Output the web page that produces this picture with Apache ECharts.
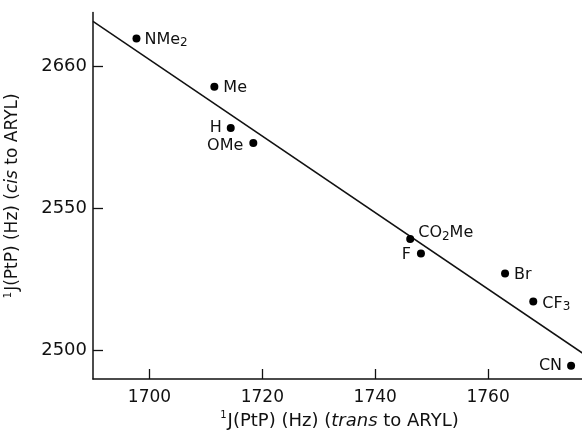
<!DOCTYPE html>
<html>
<head>
<meta charset="utf-8">
<script src="https://cdn.jsdelivr.net/npm/echarts@6/dist/echarts.min.js"></script>
<style>
  html, body { margin: 0; padding: 0; background: #fff; }
  #chart { width: 582px; height: 430px; }
</style>
</head>
<body>
<div id="chart"></div>
<script>
// Para-substituent on the aryl ring, with the two Pt–P coupling constants (Hz)
const substituents = ['NMe2', 'Me', 'H', 'OMe', 'CO2Me', 'F', 'Br', 'CF3', 'CN'];
const jTrans = [1697.7, 1711.5, 1714.4, 1718.4, 1746.2, 1748.1, 1763.0, 1768.0, 1774.7];
const jCis = [2609.9, 2592.9, 2578.4, 2573.1, 2539.3, 2534.2, 2527.1, 2517.3, 2494.7];

// Least-squares line, given by its two end points
const fitLine = [[1690, 2615.9], [1780, 2494.7]];

// Tick positions and the labels printed at them
const xTicks = [1700, 1720, 1740, 1760];
const xTickLabels = ['1700', '1720', '1740', '1760'];
const yTicks = [2500, 2550, 2600];
const yTickLabels = ['2500', '2550', '2660'];

const FONT = 'DejaVu Sans';
const INK = '#111';

// Where each substituent's label sits relative to its point
const labelPlace = {
  NMe2:  { position: 'right', distance: 4, offset: [0, 1] },
  Me:    { position: 'right', distance: 5, offset: [0, 1] },
  H:     { position: 'left',  distance: 5, offset: [0, 0] },
  OMe:   { position: 'left',  distance: 6, offset: [0, 3] },
  CO2Me: { position: 'right', distance: 4, offset: [0, -6] },
  F:     { position: 'left',  distance: 6, offset: [0, 1] },
  Br:    { position: 'right', distance: 5, offset: [0, 1] },
  CF3:   { position: 'right', distance: 5, offset: [0, 2] },
  CN:    { position: 'left',  distance: 5, offset: [0, 0] }
};

// Chemical formula -> rich text with subscripted digits
function formula(name) {
  return '{n|' + name.replace(/(\d)/g, '}{s|$1}{n|') + '}';
}

const points = substituents.map((name, i) => ({
  value: [jTrans[i], jCis[i]],
  name: name,
  label: Object.assign({ show: true, formatter: formula(name) }, labelPlace[name])
}));

const labelRich = {
  n: { fontFamily: FONT, fontSize: 16, color: INK },
  s: { fontFamily: FONT, fontSize: 12, color: INK, padding: [7, 0, 0, 0] }
};

function titleRich(size) {
  return {
    t: { fontFamily: FONT, fontSize: size, color: INK },
    i: { fontFamily: FONT, fontSize: size, color: INK, fontStyle: 'italic' },
    sup: { fontFamily: FONT, fontSize: 10, color: INK, padding: [0, 1, 10, 0] }
  };
}

const chart = echarts.init(document.getElementById('chart'), null, { renderer: 'canvas' });

chart.setOption({
  animation: false,
  backgroundColor: '#fff',
  grid: {
    left: 93, right: -19, top: 12.6, bottom: 51,
    containLabel: false, outerBoundsMode: 'none'
  },
  xAxis: {
    type: 'value',
    min: 1690,
    max: 1780,
    name: '{sup|1}{t|J(PtP) (Hz) (}{i|trans}{t| to ARYL)}',
    nameLocation: 'middle',
    nameGap: 27,
    nameTextStyle: { rich: titleRich(18), padding: [0, 15, 0, 0] },
    axisLine: { show: true, onZero: false, lineStyle: { color: INK, width: 1.5 } },
    axisTick: { show: true, inside: true, length: 10, customValues: xTicks, lineStyle: { color: INK, width: 1.3 } },
    axisLabel: {
      customValues: xTicks,
      formatter: v => xTickLabels[xTicks.indexOf(v)],
      fontFamily: FONT, fontSize: 17, color: INK, margin: 10
    },
    splitLine: { show: false }
  },
  yAxis: {
    type: 'value',
    min: 2490,
    max: 2619,
    name: '{sup|1}{t|J(PtP) (Hz) (}{i|cis}{t| to ARYL)}',
    nameLocation: 'middle',
    nameRotate: 90,
    nameGap: 70,
    nameTextStyle: { rich: titleRich(17) },
    axisLine: { show: true, onZero: false, lineStyle: { color: INK, width: 1.5 } },
    axisTick: { show: true, inside: true, length: 10, customValues: yTicks, lineStyle: { color: INK, width: 1.3 } },
    axisLabel: {
      customValues: yTicks,
      formatter: v => yTickLabels[yTicks.indexOf(v)],
      fontFamily: FONT, fontSize: 18, color: INK, margin: 6
    },
    splitLine: { show: false }
  },
  series: [
    {
      type: 'line',
      data: fitLine,
      symbol: 'none',
      silent: true,
      lineStyle: { color: INK, width: 1.5 },
      z: 1
    },
    {
      type: 'scatter',
      data: points,
      symbol: 'circle',
      symbolSize: 8,
      itemStyle: { color: '#000', opacity: 1 },
      label: { color: INK, opacity: 1, rich: labelRich },
      z: 2
    }
  ]
});
</script>
</body>
</html>
